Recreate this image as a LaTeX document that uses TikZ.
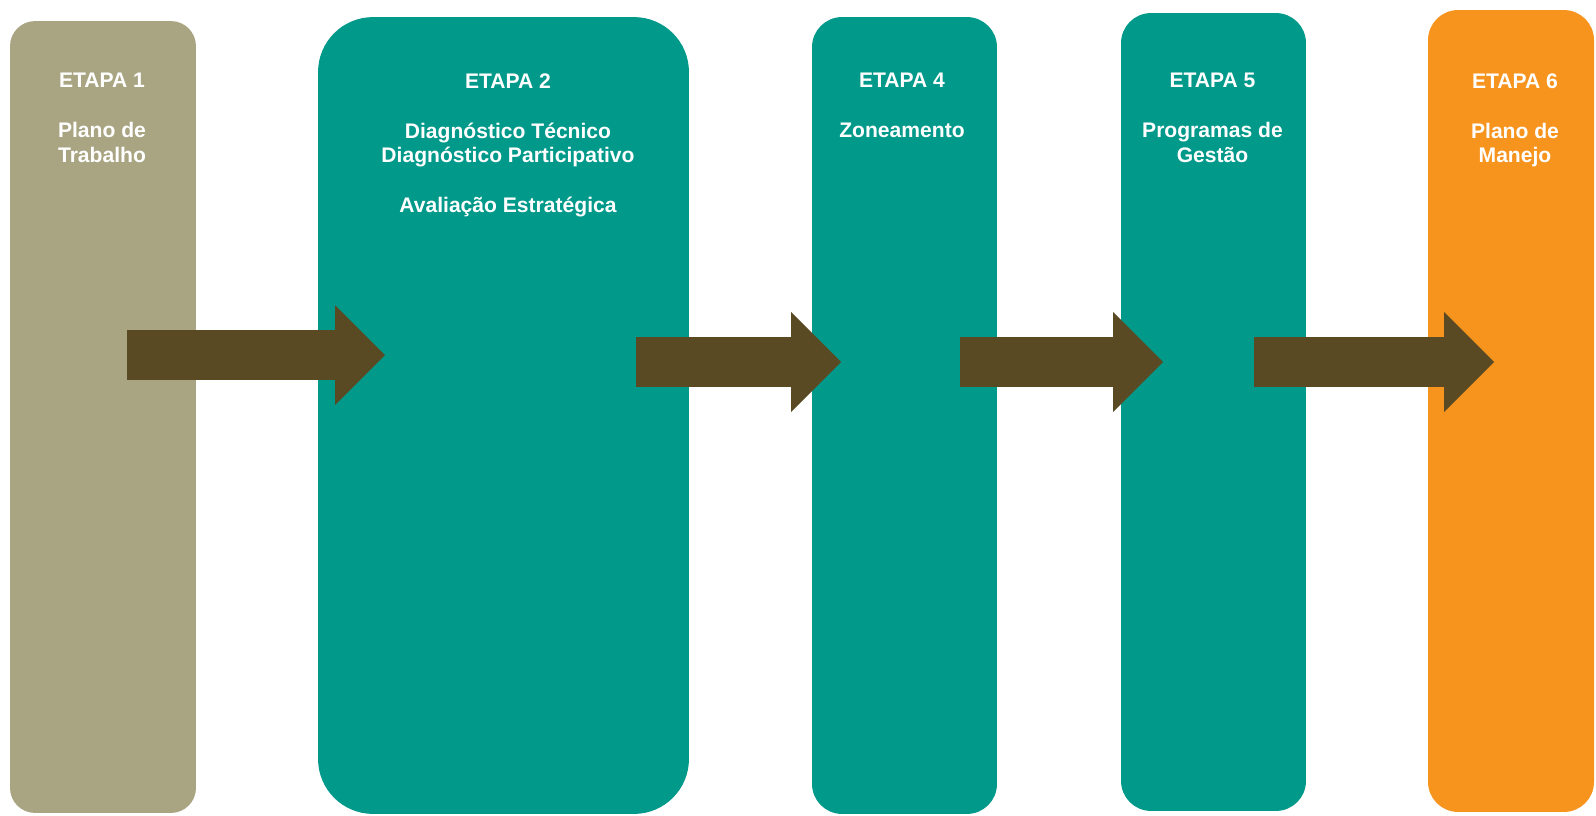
\documentclass[tikz,border=0pt]{standalone}
\usepackage{fontspec}
\setmainfont{Liberation Sans}
\usepackage{tikz}
\usetikzlibrary{arrows.meta, positioning}
\definecolor{stageolive}{RGB}{169,165,131}
\definecolor{stageteal}{RGB}{0,153,138}
\definecolor{stageorange}{RGB}{247,148,30}
\definecolor{arrbrown}{RGB}{90,74,36}
\tikzset{
  stage/.style={rectangle, fill=stageteal, draw=none, minimum width=3.7cm,
    minimum height=15.94cm, rounded corners=0.6cm, inner sep=0pt},
  stagetext/.style={anchor=north, align=center, inner sep=0pt, text=white,
    font=\fontsize{12}{14}\selectfont\bfseries},
  arr/.style={-{Triangle[length=1cm, width=2cm, line width=0pt]},
    line width=1cm, arrbrown},
}
\begin{document}
\begin{tikzpicture}[x=0.02cm, y=-0.02cm]
  \useasboundingbox (0,0) rectangle (1596,815);
  % stage boxes
  \node[stage, fill=stageolive, minimum width=3.72cm, minimum height=15.84cm,
    rounded corners=0.5cm] (b1) at (103,417) {};
  \node[stage, minimum width=7.42cm, rounded corners=1.1cm] (b2) at (503.5,415.5) {};
  \node[stage] (b4) at (904.5,415.5) {};
  \node[stage, minimum height=15.96cm] (b5) at (1213.5,412) {};
  \node[stage, fill=stageorange, minimum width=3.32cm, minimum height=16.04cm] (b6) at (1511,411) {};

  % arrow ends
  \coordinate (s1) at (127,355);  \coordinate (e1) at (385,355);
  \coordinate (s2) at (636,362);  \coordinate (e2) at (841,362);
  \coordinate (s4) at (960,362);  \coordinate (e4) at (1163,362);
  \coordinate (s5) at (1254,362); \coordinate (e5) at (1494,362);
  \draw[arr] (s1) -- (e1);
  \draw[arr] (s2) -- (e2);
  \draw[arr] (s4) -- (e4);
  \draw[arr] (s5) -- (e5);

  % labels
  \node[stagetext] (t1) at (102,73) {ETAPA 1\\[14.5pt]Plano de\\Trabalho};
  \node[stagetext] (t2) at (508,73) {ETAPA 2\\[14.5pt]Diagnóstico Técnico\\Diagnóstico Participativo\\[14.5pt]Avaliação Estratégica};
  \node[stagetext] (t4) at (902,73) {ETAPA 4\\[14.5pt]Zoneamento};
  \node[stagetext] (t5) at (1212.5,73) {ETAPA 5\\[14.5pt]Programas de\\Gestão};
  \node[stagetext] (t6) at (1515,73) {ETAPA 6\\[14.5pt]Plano de\\Manejo};
\end{tikzpicture}
\end{document}
